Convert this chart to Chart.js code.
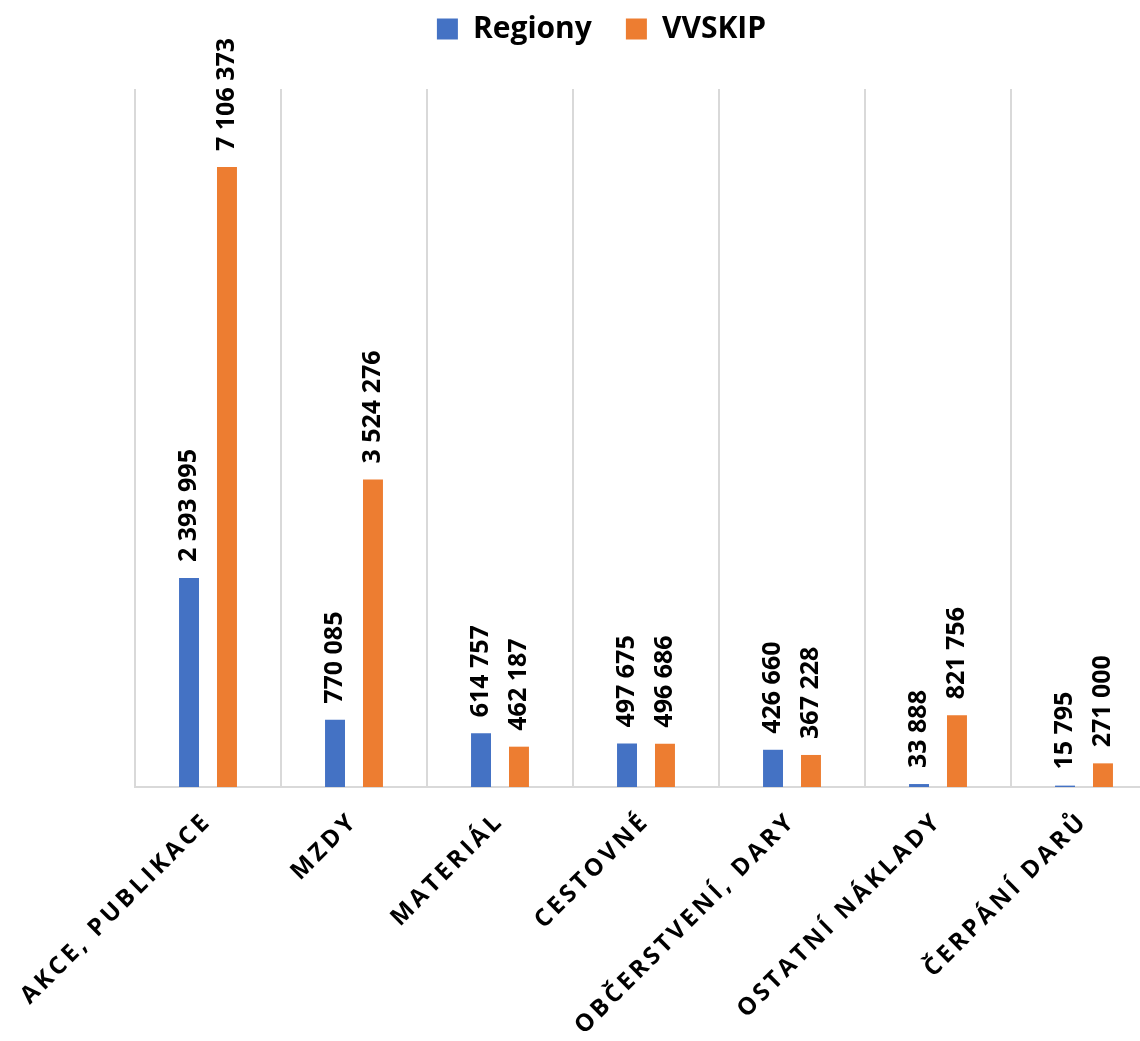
<!DOCTYPE html>
<html>
<head>
<meta charset="utf-8">
<script src="https://cdn.jsdelivr.net/npm/chart.js@4"></script>
<style>
  html, body { margin: 0; padding: 0; background: #fff; overflow: hidden; }
  #wrap { width: 1160px; height: 1041px; }
</style>
</head>
<body>
<div id="wrap"><canvas id="c" width="1160" height="1041"></canvas></div>
<script>
const categories = ["AKCE, PUBLIKACE", "MZDY", "MATERIÁL", "CESTOVNÉ", "OBČERSTVENÍ, DARY", "OSTATNÍ NÁKLADY", "ČERPÁNÍ DARŮ"];
const seriesNames = ["Regiony", "VVSKIP"];
const regiony = [2393995, 770085, 614757, 497675, 426660, 33888, 15795];
const vvskip = [7106373, 3524276, 462187, 496686, 367228, 821756, 271000];
const yMin = 0;
const yMax = 8000000;

const fmt = v => String(v).replace(/\B(?=(\d{3})+(?!\d))/g, ' ');

const dataLabels = {
  id: 'dataLabels',
  afterDatasetsDraw(chart) {
    const ctx = chart.ctx;
    chart.data.datasets.forEach((ds, di) => {
      const meta = chart.getDatasetMeta(di);
      meta.data.forEach((el, i) => {
        ctx.save();
        ctx.translate(el.x, el.y - 16);
        ctx.rotate(-Math.PI / 2);
        ctx.font = 'bold 25px "Open Sans"';
        ctx.fillStyle = '#000';
        ctx.textAlign = 'left';
        ctx.textBaseline = 'middle';
        ctx.fillText(fmt(ds.data[i]), 0, 0);
        ctx.restore();
      });
    });
  }
};

const tweaks = {
  id: 'tweaks',
  beforeUpdate(chart) {
    const lg = chart.legend;
    if (lg && !lg._patched) {
      const origFit = lg.fit;
      lg.fit = function () { origFit.call(this); this.height = 89; };
      lg._patched = true;
    }
  },
  afterLayout(chart) {
    const lg = chart.legend;
    if (lg) { lg.top = -20; lg.bottom = lg.top + lg.height; }
  },
  beforeDraw(chart) {
    const xs = chart.scales.x;
    if (xs && !xs._patched) {
      const orig = xs.drawLabels;
      xs.drawLabels = function (ca) {
        const c = this.ctx;
        c.save();
        c.letterSpacing = '3.5px';
        orig.call(this, ca);
        c.restore();
      };
      xs._patched = true;
    }
  }
};

new Chart(document.getElementById('c'), {
  type: 'bar',
  data: {
    labels: categories,
    datasets: [
      { label: seriesNames[0], data: regiony, backgroundColor: '#4472C4', categoryPercentage: 0.52, barPercentage: 0.526 },
      { label: seriesNames[1], data: vvskip, backgroundColor: '#ED7D31', categoryPercentage: 0.52, barPercentage: 0.526 }
    ]
  },
  options: {
    responsive: false,
    animation: false,
    layout: { padding: { left: 46, right: 3, top: 0, bottom: 0 } },
    plugins: {
      legend: {
        display: true,
        position: 'top',
        labels: {
          boxWidth: 21, boxHeight: 21, padding: 34,
          color: '#000',
          font: { family: '"Open Sans"', weight: 'bold', size: 30 }
        }
      },
      tooltip: { enabled: false }
    },
    scales: {
      x: {
        offset: true,
        grid: { display: true, offset: true, color: '#d9d9d9', lineWidth: 2, drawTicks: false },
        border: { display: true, color: '#d9d9d9', width: 2 },
        ticks: {
          autoSkip: false, minRotation: 45, maxRotation: 45, padding: 20,
          color: '#000',
          font: { family: '"Open Sans"', weight: 'bold', size: 24 }
        },
        afterFit(scale) { scale.height = 254; }
      },
      y: {
        min: yMin, max: yMax,
        display: true,
        grid: { display: false, drawTicks: false },
        border: { display: false },
        ticks: { display: false },
        afterFit(scale) { scale.width = 89; }
      }
    }
  },
  plugins: [dataLabels, tweaks]
});
</script>
</body>
</html>
